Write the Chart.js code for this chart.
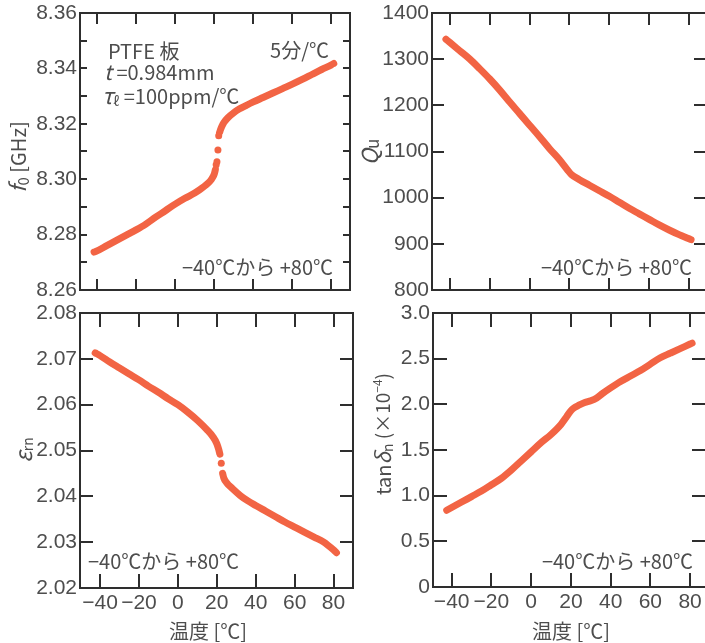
<html>

<head>
  <meta charset="utf-8">
  <style>
    html,
    body {
      margin: 0;
      padding: 0;
      width: 705px;
      height: 643px;
      overflow: hidden;
      background: #fff;
    }

    canvas {
      position: absolute;
    }
  </style>
</head>

<body>
  <canvas id="f0" width="360" height="300" style="left:0;top:0"></canvas>
  <canvas id="qu" width="355" height="300" style="left:355px;top:0"></canvas>
  <canvas id="er" width="360" height="343" style="left:0;top:300px"></canvas>
  <canvas id="td" width="355" height="343" style="left:355px;top:300px"></canvas>
  <script src="https://cdn.jsdelivr.net/npm/chart.js@4.4.1/dist/chart.umd.min.js"></script>
  <script type="text/javascript">
    // temperature ticks shared by all panels
    const tempTicks = [-40, -20, 0, 20, 40, 60, 80];

    // f0 [GHz]: lower branch, isolated dots in the jump, upper branch
    const f0LowT = [-41.5, -40, -35, -30, -25, -20, -15, -10, -5, 0, 5, 10, 13, 16, 18, 19, 20, 20.6];
    const f0LowV = [8.2737, 8.2741, 8.2760, 8.2779, 8.2798, 8.2817, 8.2838, 8.2863, 8.2886, 8.2910, 8.2931, 8.2950, 8.2964, 8.2980, 8.2994, 8.3004, 8.3018, 8.3035];
    const f0DotT = [21.0, 21.4, 21.9, 22.3];
    const f0DotV = [8.3052, 8.3063, 8.3105, 8.3157];
    const f0HighT = [22.7, 23.3, 24, 25, 27, 30, 33, 36, 40, 45, 50, 55, 60, 65, 70, 75, 80, 81.2];
    const f0HighV = [8.3168, 8.3180, 8.3192, 8.3205, 8.3222, 8.3240, 8.3254, 8.3265, 8.3279, 8.3295, 8.3311, 8.3327, 8.3343, 8.3360, 8.3378, 8.3396, 8.3413, 8.3418];
    const f0Labels = [8.26, 8.28, 8.30, 8.32, 8.34, 8.36];
    const f0Marks = [8.26, 8.27, 8.28, 8.29, 8.30, 8.31, 8.32, 8.33, 8.34, 8.35, 8.36];

    // Qu
    const quT = [-42, -40, -35, -30, -25, -20, -15, -10, -5, 0, 5, 10, 15, 19, 21, 25, 30, 35, 40, 45, 50, 55, 60, 65, 70, 75, 80, 81];
    const quV = [1343, 1336, 1318, 1300, 1279, 1257, 1233, 1207, 1182, 1157, 1132, 1106, 1082, 1060, 1050, 1039, 1027, 1015, 1003, 990, 977, 965, 953, 941, 930, 920, 911, 909];
    const quLabels = [800, 900, 1000, 1100, 1200, 1300, 1400];

    // epsilon rn
    const erLowT = [-42.5, -40, -35, -30, -25, -20, -15, -10, -5, 0, 5, 10, 15, 18, 20, 21, 21.6];
    const erLowV = [2.0713, 2.0707, 2.0693, 2.0680, 2.0667, 2.0654, 2.0640, 2.0627, 2.0613, 2.0600, 2.0584, 2.0566, 2.0545, 2.0530, 2.0515, 2.0502, 2.0492];
    const erDotT = [22.3];
    const erDotV = [2.0472];
    const erHighT = [23.0, 23.6, 25, 28, 32, 36, 40, 45, 50, 55, 60, 65, 70, 75, 80, 81.5];
    const erHighV = [2.0450, 2.0440, 2.0430, 2.0417, 2.0402, 2.0390, 2.0380, 2.0368, 2.0356, 2.0344, 2.0333, 2.0322, 2.0311, 2.0300, 2.0283, 2.0277];
    const erLabels = [2.02, 2.03, 2.04, 2.05, 2.06, 2.07, 2.08];

    // tan delta n (x10^-4)
    const tdT = [-42.5, -40, -35, -30, -25, -20, -15, -10, -5, 0, 5, 10, 15, 18, 20, 21.5, 24, 27, 30, 33, 36, 40, 45, 50, 55, 60, 65, 70, 75, 80, 81];
    const tdV = [0.84, 0.87, 0.93, 0.99, 1.05, 1.12, 1.19, 1.28, 1.38, 1.48, 1.58, 1.67, 1.78, 1.87, 1.93, 1.96, 1.99, 2.02, 2.04, 2.07, 2.12, 2.18, 2.25, 2.31, 2.37, 2.44, 2.51, 2.56, 2.61, 2.66, 2.67];
    const tdLabels = [0, 0.5, 1.0, 1.5, 2.0, 2.5, 3.0];

    const RED = '#f26444';
    const TEXT = '#4d4d4d';
    const FRAME = '#2e2e2e';
    const NUMFONT = "'Liberation Sans', 'Noto Sans CJK JP', sans-serif";
    const JPFONT = "'Noto Sans CJK JP', 'Liberation Sans', sans-serif";

    const pts = (xs, ys) => xs.map((x, i) => ({ x: x, y: ys[i] }));
    const minus = v => v < 0 ? '\u2212' + (-v) : String(v);

    // per-canvas frame / text settings, kept out of chart options
    const decor = {};

    function richText(ctx, x, y, parts, align, rot) {
      ctx.save();
      ctx.translate(x, y);
      if (rot) ctx.rotate(-Math.PI / 2);
      ctx.textBaseline = 'middle';
      ctx.textAlign = 'left';
      ctx.fillStyle = TEXT;
      const fontOf = p => (p.it ? 'italic ' : '') + (p.size || 20) + 'px ' + (p.fam || JPFONT);
      let w = 0;
      parts.forEach(p => { ctx.font = fontOf(p); p.w = ctx.measureText(p.t).width; w += p.w; });
      let cx = align === 'center' ? -w / 2 : align === 'right' ? -w : 0;
      parts.forEach(p => { ctx.font = fontOf(p); ctx.fillText(p.t, cx, p.dy || 0); cx += p.w; });
      ctx.restore();
    }

    const panelDecor = {
      id: 'panelDecor',
      afterDraw(chart) {
        const o = decor[chart.canvas.id];
        const ctx = chart.ctx;
        const a = chart.chartArea;
        const sx = chart.scales.x, sy = chart.scales.y;
        const L = Math.round(a.left), R = Math.round(a.right);
        const T = Math.round(a.top), B = Math.round(a.bottom);
        ctx.save();
        ctx.fillStyle = FRAME;
        // inward tick marks on all four sides
        tempTicks.forEach(v => {
          const px = Math.round(sx.getPixelForValue(v)) - 1;
          ctx.fillRect(px, T, 2, o.xLen);
          ctx.fillRect(px, B - o.xLen, 2, o.xLen);
        });
        o.yMarks.forEach(v => {
          const py = Math.round(sy.getPixelForValue(v)) - 1;
          ctx.fillRect(L, py, o.yLen, 2);
          ctx.fillRect(R - o.yLen, py, o.yLen, 2);
        });
        // frame
        ctx.fillRect(L - 1, T - 1, R - L + 2, 2);
        ctx.fillRect(L - 1, B - 1, R - L + 2, 2);
        ctx.fillRect(L - 1, T - 1, 2, B - T + 2);
        ctx.fillRect(R - 1, T - 1, 2, B - T + 2);
        ctx.restore();
        o.texts.forEach(t => richText(ctx, t.x, t.y, t.parts, t.align, t.rot));
      }
    };

    function lineSet(data) {
      return {
        data: data, showLine: true, borderColor: RED, borderWidth: 7, pointRadius: 0,
        borderCapStyle: 'round', borderJoinStyle: 'round', cubicInterpolationMode: 'monotone'
      };
    }

    function dotSet(data) {
      return { data: data, showLine: false, backgroundColor: RED, borderWidth: 0, pointRadius: 3.5 };
    }

    function makePanel(id, p) {
      decor[id] = { xLen: p.xLen, yLen: p.yLen, yMarks: p.yMarks, texts: p.texts };
      new Chart(document.getElementById(id), {
        type: 'scatter',
        data: { datasets: p.datasets },
        options: {
          responsive: false,
          animation: false,
          devicePixelRatio: 1,
          layout: { padding: { top: 13, right: p.padRight, left: 0, bottom: 0 } },
          plugins: {
            legend: { display: false },
            tooltip: { enabled: false }
          },
          scales: {
            x: {
              type: 'linear', min: p.xMin, max: p.xMax,
              // negative tick length: the axis draws its own inward ticks on the bottom edge
              grid: { display: true, drawOnChartArea: false, drawTicks: true, tickLength: -p.xLen, color: FRAME, lineWidth: 2 },
              border: { display: false },
              ticks: {
                display: p.xLabels, font: { family: NUMFONT, size: 21 }, color: TEXT, padding: 3 + p.xLen,
                maxRotation: 0, minRotation: 0, autoSkip: false, callback: minus
              },
              afterBuildTicks: s => { s.ticks = tempTicks.map(v => ({ value: v })); },
              afterFit: s => { s.height = p.xHeight; s.paddingLeft = 0; s.paddingRight = 0; }
            },
            y: {
              type: 'linear', min: p.yMin, max: p.yMax,
              grid: { display: true, drawOnChartArea: false, drawTicks: true, tickLength: -p.yLen, color: FRAME, lineWidth: 2 },
              border: { display: false },
              ticks: { font: { family: NUMFONT, size: 21 }, color: TEXT, padding: 3 + p.yLen, autoSkip: false, callback: p.yFmt },
              afterBuildTicks: s => { s.ticks = p.yLabels.map(v => ({ value: v })); },
              afterFit: s => { s.width = p.yWidth; s.paddingTop = 0; s.paddingBottom = 0; }
            }
          }
        },
        plugins: [panelDecor]
      });
    }

    const rangeText = () => [{ t: '\u221240\u2103から +80\u2103', size: 20 }];

    makePanel('f0', {
      datasets: [lineSet(pts(f0LowT, f0LowV)), dotSet(pts(f0DotT, f0DotV)), lineSet(pts(f0HighT, f0HighV))],
      xMin: -48.7, xMax: 89.5, yMin: 8.26, yMax: 8.36, yLabels: f0Labels, yMarks: f0Marks, xLen: 11, yLen: 7,
      yFmt: v => v.toFixed(2), xLabels: false, xHeight: 10, yWidth: 80, padRight: 10,
      texts: [
        { x: 18, y: 157, rot: true, align: 'center', parts: [{ t: 'f', it: true, size: 22 }, { t: '0', size: 15, dy: 5 }, { t: ' [GHz]', size: 20 }] },
        { x: 108, y: 51, align: 'left', parts: [{ t: 'PTFE 板', size: 20 }] },
        { x: 104, y: 72, align: 'left', parts: [{ t: 't', it: true, size: 21 }, { t: ' =0.984mm', size: 20 }] },
        { x: 102, y: 96, align: 'left', parts: [{ t: 'τ', it: true, size: 22 }, { t: 'ℓ', size: 13, dy: 5 }, { t: ' =100ppm/℃', size: 20 }] },
        { x: 329, y: 50, align: 'right', parts: [{ t: '5分/℃', size: 20 }] },
        { x: 333, y: 267, align: 'right', parts: rangeText() }
      ]
    });

    makePanel('qu', {
      datasets: [lineSet(pts(quT, quV))],
      xMin: -49, xMax: 88.5, yMin: 800, yMax: 1400, yLabels: quLabels, yMarks: quLabels, xLen: 12, yLen: 12,
      yFmt: v => String(v), xLabels: false, xHeight: 10, yWidth: 77, padRight: 4,
      texts: [
        { x: 15, y: 152, rot: true, align: 'center', parts: [{ t: 'Q', it: true, size: 22 }, { t: 'u', size: 17, dy: 3 }] },
        { x: 337, y: 267, align: 'right', parts: rangeText() }
      ]
    });

    makePanel('er', {
      datasets: [lineSet(pts(erLowT, erLowV)), dotSet(pts(erDotT, erDotV)), lineSet(pts(erHighT, erHighV))],
      xMin: -50.3, xMax: 90, yMin: 2.02, yMax: 2.08, yLabels: erLabels, yMarks: erLabels, xLen: 14, yLen: 13,
      yFmt: v => v.toFixed(2), xLabels: true, xHeight: 55, yWidth: 80, padRight: 7,
      texts: [
        { x: 23, y: 150, rot: true, align: 'center', parts: [{ t: 'ε', it: true, size: 23 }, { t: 'rn', size: 14, dy: 5 }] },
        { x: 88, y: 261, align: 'left', parts: rangeText() },
        { x: 208, y: 331, align: 'center', parts: [{ t: '温度 [℃]', size: 20 }] }
      ]
    });

    makePanel('td', {
      datasets: [lineSet(pts(tdT, tdV))],
      xMin: -49.4, xMax: 88, yMin: 0, yMax: 3, yLabels: tdLabels, yMarks: tdLabels, xLen: 14, yLen: 14,
      yFmt: v => v === 0 ? '0' : v.toFixed(1), xLabels: true, xHeight: 56, yWidth: 78, padRight: 4,
      texts: [
        {
          x: 28, y: 134, rot: true, align: 'center', parts: [
            { t: 'tan', size: 20 }, { t: 'δ', it: true, size: 21 }, { t: 'n', size: 14, dy: 5 },
            { t: ' (×10', size: 19 }, { t: '\u22124', size: 12, dy: -6 }, { t: ')', size: 19 }]
        },
        { x: 338, y: 261, align: 'right', parts: rangeText() },
        { x: 216, y: 331, align: 'center', parts: [{ t: '温度 [℃]', size: 20 }] }
      ]
    });
  </script>
</body>

</html>
